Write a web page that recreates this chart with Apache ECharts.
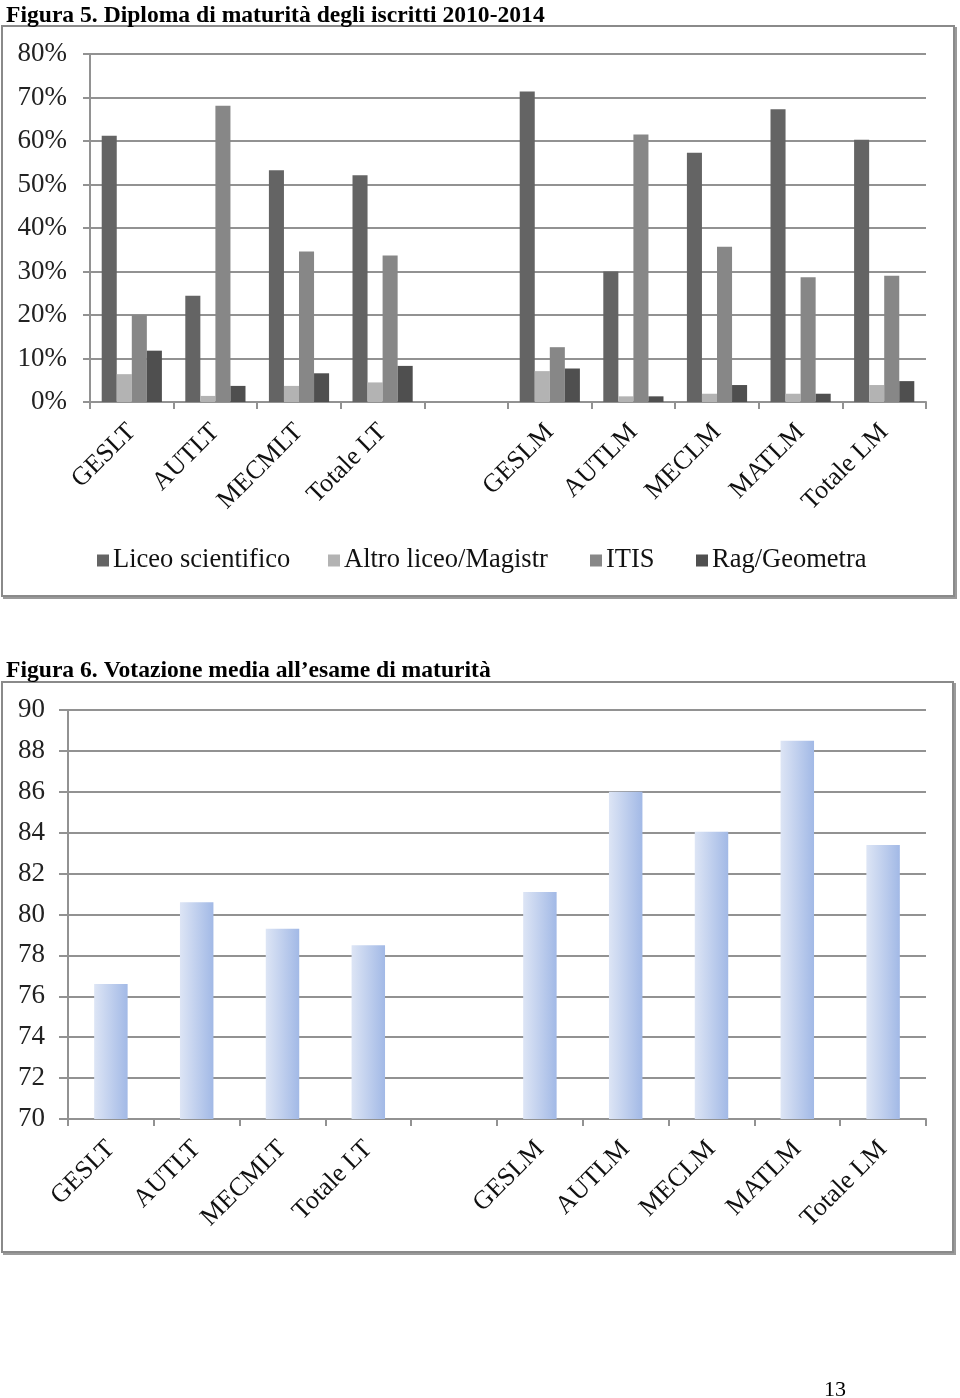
<!DOCTYPE html>
<html>
<head>
<meta charset="utf-8">
<script src="https://cdn.jsdelivr.net/npm/echarts@6/dist/echarts.min.js"></script>
<style>
html,body{margin:0;padding:0;background:#fff;}
#c{width:960px;height:1398px;}
</style>
</head>
<body>
<div id="c"></div>
<script>
// ---- Data ----
const categories = ['GESLT','AUTLT','MECMLT','Totale LT','','GESLM','AUTLM','MECLM','MATLM','Totale LM'];
const seriesNames = ['Liceo scientifico','Altro liceo/Magistr','ITIS','Rag/Geometra'];
const liceoScientifico = [61.2, 24.4, 53.3, 52.1, null, 71.4, 30.0, 57.3, 67.3, 60.3];
const altroLiceo       = [6.4, 1.4, 3.7, 4.5, null, 7.1, 1.3, 1.9, 1.9, 3.9];
const itis             = [20.0, 68.1, 34.6, 33.7, null, 12.6, 61.5, 35.7, 28.7, 29.0];
const ragGeometra      = [11.8, 3.7, 6.6, 8.3, null, 7.7, 1.3, 3.9, 1.9, 4.8];
const votazioneMedia   = [76.6, 80.6, 79.3, 78.5, null, 81.1, 86.0, 84.05, 88.5, 83.4];
const pctTicks = [0,10,20,30,40,50,60,70,80];
const voteTicks = [70,72,74,76,78,80,82,84,86,88,90];

const title1 = 'Figura 5. Diploma di maturità degli iscritti 2010-2014';
const title2 = 'Figura 6. Votazione media all\u2019esame di maturità';
const pageNumber = '13';

// ---- Chart ----
const chart = echarts.init(document.getElementById('c'), null, {renderer:'canvas'});
const serif = "'Liberation Serif','Times New Roman',serif";
const gridColor = '#929292';
const colors = ['#646464','#b3b3b3','#878787','#4f4f4f'];
const legendLefts = [97, 328, 590, 696];

function xAxisCfg(gridIndex){
  return {
    type:'category', gridIndex, data:categories, boundaryGap:true,
    axisLine:{show:true, lineStyle:{color:gridColor, width:2}},
    axisTick:{show:true, length:7, alignWithLabel:false, lineStyle:{color:gridColor, width:2}},
    axisLabel:{rotate:45, interval:0, margin:26, fontFamily:serif, fontSize:26, color:'#111'}
  };
}

const barData = [liceoScientifico, altroLiceo, itis, ragGeometra];
const topSeries = seriesNames.map((n,i)=>({
  name:n, type:'bar', xAxisIndex:0, yAxisIndex:0, data:barData[i],
  barGap:'0%', barCategoryGap:'28%', itemStyle:{color:colors[i]}
}));

const legends = seriesNames.map((n,i)=>({
  data:[n], left:legendLefts[i], top:547, padding:0, itemWidth:12, itemHeight:12,
  icon:'rect', selectedMode:false,
  textStyle:{fontFamily:serif, fontSize:26.5, color:'#111', padding:[0,0,0,-1]}
}));

const option = {
  animation:false,
  backgroundColor:'#fff',
  textStyle:{fontFamily:serif},
  title:[
    {text:title1, left:1, top:-1, textStyle:{fontFamily:serif, fontWeight:'bold', fontSize:23.6, color:'#000'}},
    {text:title2, left:1, top:654, textStyle:{fontFamily:serif, fontWeight:'bold', fontSize:23.6, color:'#000'}},
    {text:pageNumber, left:819, top:1374, textStyle:{fontFamily:serif, fontWeight:'normal', fontSize:22, color:'#000'}}
  ],
  graphic:[
    {type:'rect', z:-1, shape:{x:2, y:26, width:952, height:570}, style:{fill:'none', stroke:'#8a8a8a', lineWidth:2}},
    {type:'polyline', z:-1, shape:{points:[[956,27],[956,598],[3,598]]}, style:{fill:'none', stroke:'#9a9a9a', lineWidth:2}},
    {type:'rect', z:-1, shape:{x:2, y:682, width:951, height:570}, style:{fill:'none', stroke:'#8a8a8a', lineWidth:2}},
    {type:'polyline', z:-1, shape:{points:[[955,683],[955,1254],[3,1254]]}, style:{fill:'none', stroke:'#9a9a9a', lineWidth:2}}
  ],
  legend:legends,
  grid:[
    {left:90, right:34, top:54, height:348, containLabel:false},
    {left:68, right:34, top:710, height:409, containLabel:false}
  ],
  xAxis:[xAxisCfg(0), xAxisCfg(1)],
  yAxis:[
    {type:'value', gridIndex:0, min:pctTicks[0], max:pctTicks[pctTicks.length-1], interval:10,
     axisLine:{show:true, lineStyle:{color:gridColor, width:2}},
     axisTick:{show:true, length:7, lineStyle:{color:gridColor, width:2}},
     splitLine:{show:true, lineStyle:{color:gridColor, width:2}},
     axisLabel:{formatter:'{value}%', margin:23, fontFamily:serif, fontSize:27, color:'#222'}},
    {type:'value', gridIndex:1, min:voteTicks[0], max:voteTicks[voteTicks.length-1], interval:2,
     axisLine:{show:true, lineStyle:{color:gridColor, width:2}},
     axisTick:{show:true, length:9, lineStyle:{color:gridColor, width:2}},
     splitLine:{show:true, lineStyle:{color:gridColor, width:2}},
     axisLabel:{margin:23, fontFamily:serif, fontSize:27, color:'#222'}}
  ],
  series: topSeries.concat([{
    name:'Votazione media', type:'bar', xAxisIndex:1, yAxisIndex:1, data:votazioneMedia,
    barCategoryGap:'61%',
    itemStyle:{color:new echarts.graphic.LinearGradient(0,0,1,0,[
      {offset:0,color:'#dde5f5'},{offset:1,color:'#a2b9e6'}])}
  }])
};
chart.setOption(option);
</script>
</body>
</html>
